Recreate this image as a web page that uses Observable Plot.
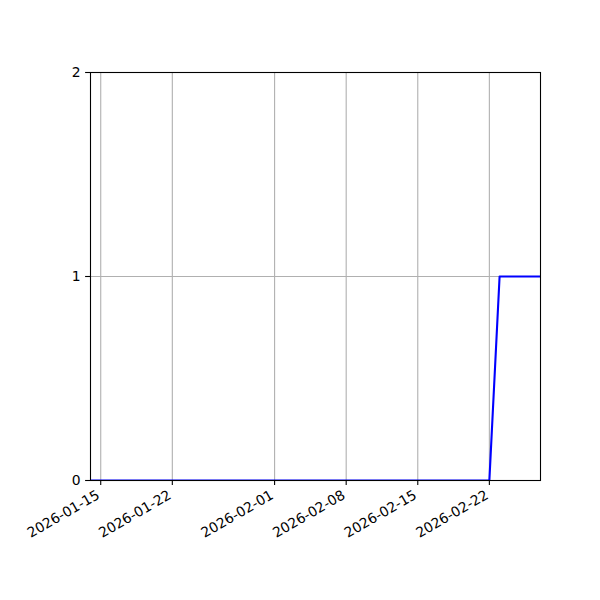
<!DOCTYPE html>
<html>
<head>
<meta charset="utf-8">
<script src="https://cdn.jsdelivr.net/npm/d3@7"></script>
<script src="https://cdn.jsdelivr.net/npm/@observablehq/plot@0.6"></script>
<style>
  html, body { margin: 0; padding: 0; background: #fff; }
  #chart svg { display: block; }
</style>
</head>
<body>
<div id="chart"></div>
<script>
// Series vertices (daily series: 0 through 2026-02-22, 1 from 2026-02-23)
const dates = ["2026-01-14", "2026-02-22", "2026-02-23", "2026-02-27"];
const values = [0, 0, 1, 1];
// Axis ticks
const xTickLabels = ["2026-01-15", "2026-01-22", "2026-02-01", "2026-02-08", "2026-02-15", "2026-02-22"];
const yTicks = [0, 1, 2];
const xDomain = ["2026-01-14", "2026-02-27"];

const parse = d3.utcParse("%Y-%m-%d");
const data = dates.map((d, i) => ({date: parse(d), value: values[i]}));
const xTicks = xTickLabels.map(parse);
const fmt = d3.utcFormat("%Y-%m-%d");

const fs = 13.9;
const chart = Plot.plot({
  width: 600,
  height: 600,
  marginLeft: 90,
  marginRight: 60,
  marginTop: 72,
  marginBottom: 120,
  style: {fontFamily: "DejaVu Sans", fontSize: fs + "px", color: "#000", background: "#fff"},
  x: {type: "utc", domain: xDomain.map(parse)},
  y: {domain: [0, 2]},
  marks: [
    Plot.gridX(xTicks, {stroke: "#b0b0b0", strokeOpacity: 1, strokeWidth: 1.1}),
    Plot.gridY(yTicks, {stroke: "#b0b0b0", strokeOpacity: 1, strokeWidth: 1.1}),
    Plot.line(data, {x: "date", y: "value", stroke: "#0000ff", strokeWidth: 2.1, clip: true}),
    Plot.frame({stroke: "#000", strokeWidth: 1.1}),
    Plot.axisY(yTicks, {tickSize: 4.9, tickPadding: 4.9, tickFormat: d => String(d), fontSize: fs, label: null, strokeWidth: 1.1}),
    Plot.axisX(xTicks, {tickSize: 4.9, tickFormat: () => "", label: null, strokeWidth: 1.1}),
    Plot.text(xTicks, {
      x: d => d,
      frameAnchor: "bottom",
      text: fmt,
      rotate: -30,
      textAnchor: "end",
      lineAnchor: "top",
      dx: -5,
      dy: 8.7,
      fontSize: fs,
      fill: "#000"
    })
  ]
});
document.getElementById("chart").appendChild(chart);
</script>
</body>
</html>
